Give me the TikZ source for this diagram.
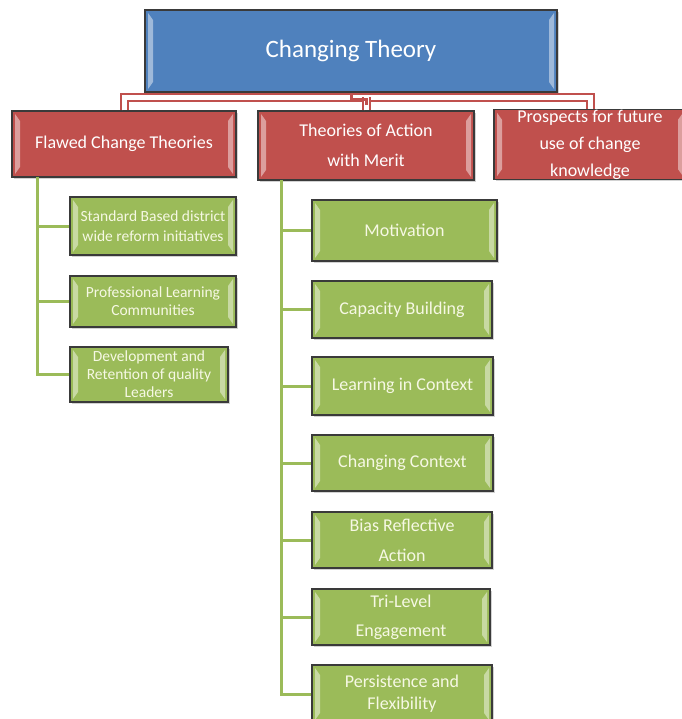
\documentclass[tikz,border=0pt]{standalone}
\usepackage{fontspec}
\setmainfont{Carlito}
\usetikzlibrary{positioning,shadows}

\definecolor{topblue}{HTML}{4F81BD}
\definecolor{headred}{HTML}{C0504D}
\definecolor{leafgreen}{HTML}{9BBB59}
\definecolor{edgegray}{HTML}{3A3A3A}
\definecolor{leaftext}{HTML}{F6F8E4}

\begin{document}
\begin{tikzpicture}[x=1pt,y=-1pt,
  bevel/.style={path picture={
    \fill[white,opacity=.45] ([shift={(3pt,-3pt)}]path picture bounding box.north west) -- ([shift={(8pt,-10pt)}]path picture bounding box.north west) -- ([shift={(8pt,10pt)}]path picture bounding box.south west) -- ([shift={(3pt,3pt)}]path picture bounding box.south west) -- cycle;
    \fill[white,opacity=.45] ([shift={(-3pt,-3pt)}]path picture bounding box.north east) -- ([shift={(-8pt,-10pt)}]path picture bounding box.north east) -- ([shift={(-8pt,10pt)}]path picture bounding box.south east) -- ([shift={(-3pt,3pt)}]path picture bounding box.south east) -- cycle;}},
  box/.style={draw=edgegray, line width=1.2pt, inner sep=0pt, align=center, bevel,
    drop shadow={shadow xshift=2pt, shadow yshift=-2pt, opacity=.35}},
  rootbox/.style={box, fill=topblue, text=white, font=\fontsize{25}{30}\selectfont},
  headbox/.style={box, fill=headred, text=white, font=\fontsize{18}{30}\selectfont},
  leafbox/.style={box, fill=leafgreen, text=leaftext, font=\fontsize{18}{30}\selectfont},
  smallleaf/.style={leafbox, font=\fontsize{15.5}{18}\selectfont},
  bar/.style={headred, line width=2pt, double=white, double distance=5pt},
  stub/.style={headred, line width=3pt},
  twig/.style={leafgreen, line width=3pt}]
\useasboundingbox[fill=white] (0,0) rectangle (681,719);

\node[rootbox, minimum width=412, minimum height=82] (root) at (351,51) {Changing Theory};

\node[headbox, minimum width=224, minimum height=66] (flawed) at (124,144) {Flawed Change Theories};
\node[headbox, minimum width=216, minimum height=69] (action) at (366,145.5) {Theories of Action\\with Merit};
\node[headbox, minimum width=192, minimum height=67, font=\fontsize{18}{27}\selectfont] (prospects) at (590,144.5) {Prospects for future\\use of change\\knowledge};

% flawed theories
\node[smallleaf, minimum width=166, minimum height=58, font=\fontsize{15.5}{20}\selectfont] (std) at (153,226) {Standard Based district\\wide reform initiatives};
\node[smallleaf, minimum width=166, minimum height=51] (prof) at (153,301.5) {Professional Learning\\Communities};
\node[smallleaf, minimum width=158, minimum height=55] (dev) at (149,374.5) {Development and\\Retention of quality\\Leaders};

% theories with merit
\node[leafbox, minimum width=185, minimum height=61] (motiv) at (404.5,230.5) {Motivation};
\node[leafbox, minimum width=180, minimum height=57] (capac) at (402,309.5) {Capacity Building};
\node[leafbox, minimum width=181, minimum height=58] (learn) at (402.5,386) {Learning in Context};
\node[leafbox, minimum width=181, minimum height=56] (chctx) at (402.5,463) {Changing Context};
\node[leafbox, minimum width=180, minimum height=56] (bias) at (402,540) {Bias Reflective\\Action};
\node[leafbox, minimum width=178, minimum height=56, font=\fontsize{18}{29}\selectfont] (tri) at (401,617) {Tri-Level\\Engagement};
\node[leafbox, minimum width=180, minimum height=58, font=\fontsize{18}{22}\selectfont] (persist) at (402,694) {Persistence and\\Flexibility};

% connectors
\draw[bar] (flawed.north) -- ++(0,-13) -| (prospects.north);
\draw[bar] (action.north) -- ++(0,-13.5);
\draw[stub] (root.south) -- ++(0,7) -| ([yshift=5pt]action.north);

\coordinate (ltrunk) at (37,177);
\coordinate (rtrunk) at (281,180);
\draw[twig] (ltrunk) |- (dev.west);
\foreach \n in {std,prof}
  \draw[twig] (ltrunk |- \n.west) -- (\n.west);
\draw[twig] (rtrunk) |- (persist.west);
\foreach \n in {motiv,capac,learn,chctx,bias,tri}
  \draw[twig] (rtrunk |- \n.west) -- (\n.west);
\end{tikzpicture}
\end{document}
